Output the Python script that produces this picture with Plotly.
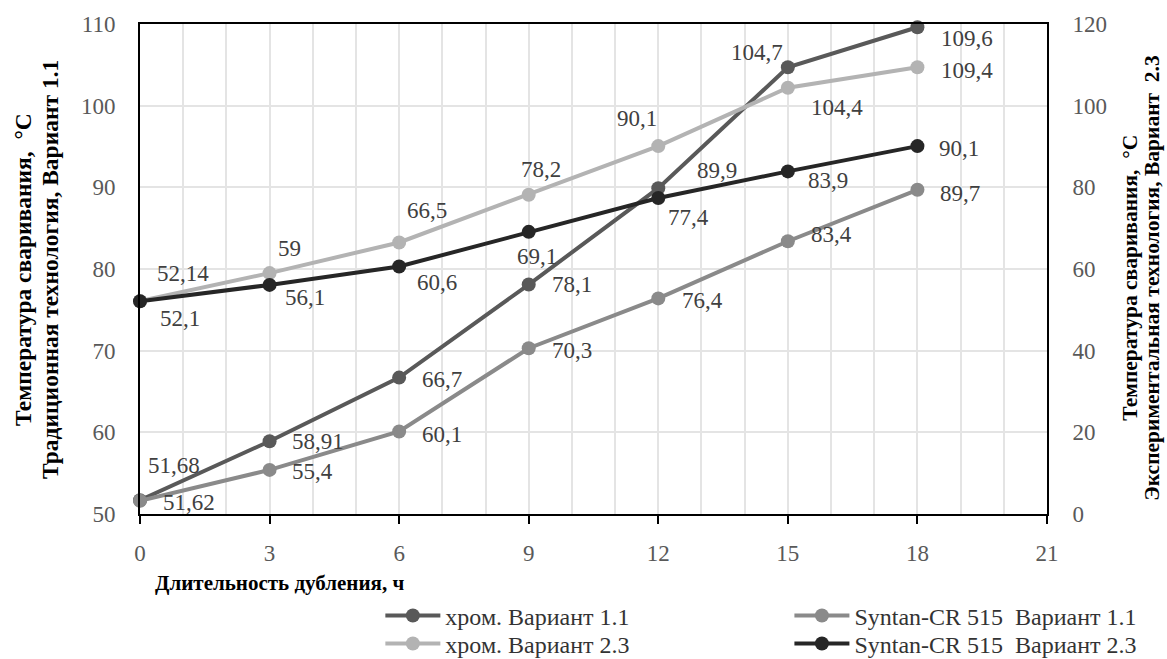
import plotly.graph_objects as go

hours = [0, 3, 6, 9, 12, 15, 18]
x_ticks = [0, 3, 6, 9, 12, 15, 18, 21]
left_ticks = [50, 60, 70, 80, 90, 100, 110]
right_ticks = [0, 20, 40, 60, 80, 100, 120]

chrome_11 = [51.68, 58.91, 66.7, 78.1, 89.9, 104.7, 109.6]
syntan_11 = [51.62, 55.4, 60.1, 70.3, 76.4, 83.4, 89.7]
chrome_23 = [52.14, 59, 66.5, 78.2, 90.1, 104.4, 109.4]
syntan_23 = [52.1, 56.1, 60.6, 69.1, 77.4, 83.9, 90.1]

names = ["хром. Вариант 1.1", "Syntan-CR 515  Вариант 1.1",
         "хром. Вариант 2.3", "Syntan-CR 515  Вариант 2.3"]
series = [chrome_11, syntan_11, chrome_23, syntan_23]
axes = ["y", "y", "y2", "y2"]
legends = ["legend", "legend2", "legend3", "legend4"]
colors = ["#595959", "#8a8a8a", "#b3b3b3", "#262626"]

# label offsets in screen px (dx right, dy down) per point, per series
offsets = [
    [(34, -35), (48, 0), (43, 2), (43, 0), (59, -18), (-31, -15), (50, 11)],
    [(49, 2), (43, 2), (43, 3), (43, 2), (44, 2), (44, -7), (43, 4)],
    [(43, -28), (20, -25), (28, -32), (12, -25), (-21, -28), (49, 20), (50, 3)],
    [(40, 17), (35, 13), (38, 16), (8, 25), (30, 20), (40, 9), (42, 2)],
]

SERIF = "Liberation Serif"

def fmt(v):
    return str(v).replace(".", ",")

fig = go.Figure()
for name, vals, ax, lg, col in zip(names, series, axes, legends, colors):
    fig.add_trace(go.Scatter(
        x=hours, y=vals, name=name, yaxis=ax, legend=lg, mode="lines+markers",
        line=dict(color=col, width=4), marker=dict(color=col, size=14),
        cliponaxis=False,
    ))

annotations = []
for vals, ax, offs in zip(series, axes, offsets):
    for xv, yv, (dx, dy) in zip(hours, vals, offs):
        annotations.append(dict(
            x=xv, y=yv, xref="x", yref=ax, text=fmt(yv), showarrow=False,
            xshift=dx, yshift=-dy,
            font=dict(family=SERIF, size=23, color="#404040"),
        ))

annotations.append(dict(
    x=0, y=-0.140, xref="paper", yref="paper", xanchor="left", yanchor="middle",
    xshift=13, text="<b>Длительность дубления, ч</b>", showarrow=False,
    font=dict(family=SERIF, size=21, color="#000000"),
))
# left axis title (two lines)
for txt, xs in [("<b>Температура сваривания,  °С</b>", -117),
                ("<b>Традиционная технология, Вариант 1.1</b>", -90)]:
    annotations.append(dict(
        x=0, y=0.498, xref="paper", yref="paper", xanchor="center", yanchor="middle",
        xshift=xs, text=txt, showarrow=False, textangle=-90,
        font=dict(family=SERIF, size=23.5, color="#000000"),
    ))
# right axis title (two lines)
for txt, xs in [("<b>Температура сваривания,  °С</b>", 83),
                ("<b>Экспериментальная технология, Вариант  2.3</b>", 105)]:
    annotations.append(dict(
        x=1, y=0.482, xref="paper", yref="paper", xanchor="center", yanchor="middle",
        xshift=xs, text=txt, showarrow=False, textangle=-90,
        font=dict(family=SERIF, size=21.5, color="#000000"),
    ))

tickfont = dict(family=SERIF, size=23, color="#595959")
legfont = dict(family=SERIF, size=24, color="#333333")

legend_pos = {
    "legend": (0.265, -0.208),
    "legend2": (0.716, -0.208),
    "legend3": (0.265, -0.265),
    "legend4": (0.716, -0.265),
}
legend_layout = {
    k: dict(orientation="v", x=px, y=py, xanchor="left", yanchor="middle",
            font=legfont, itemwidth=55, bgcolor="rgba(0,0,0,0)")
    for k, (px, py) in legend_pos.items()
}

fig.update_layout(
    width=1167, height=659,
    margin=dict(l=140, r=120, t=24, b=145, autoexpand=False),
    paper_bgcolor="white", plot_bgcolor="white",
    font=dict(family=SERIF),
    showlegend=True,
    annotations=annotations,
    xaxis=dict(
        range=[0, 21], tickvals=x_ticks, ticktext=[str(t) for t in x_ticks],
        showgrid=True, gridcolor="#e4e4e4", gridwidth=1.5,
        minor=dict(dtick=1, tick0=0, showgrid=True, gridcolor="#e4e4e4", gridwidth=1.5),
        showline=True, linecolor="black", linewidth=2, mirror=True,
        ticks="outside", ticklen=8, tickcolor="black", tickwidth=2,
        tickfont=tickfont, zeroline=False, ticklabelstandoff=9,
    ),
    yaxis=dict(
        range=[50, 110], tickvals=left_ticks, showgrid=True, gridcolor="#e4e4e4", gridwidth=1.5,
        showline=True, linecolor="black", linewidth=2, ticks="",
        tickfont=tickfont, zeroline=False, ticklabelstandoff=18,
    ),
    yaxis2=dict(
        range=[0, 120], tickvals=right_ticks, overlaying="y", side="right",
        showgrid=False, showline=True, linecolor="black", linewidth=2, ticks="",
        tickfont=tickfont, zeroline=False, ticklabelstandoff=19,
    ),
    **legend_layout,
)

fig.write_html("out.html")
